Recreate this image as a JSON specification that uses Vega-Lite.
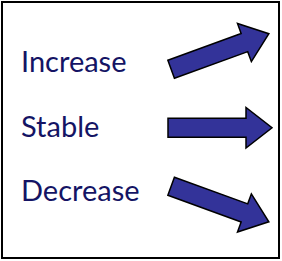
{
  "$schema": "https://vega.github.io/schema/vega-lite/v6.json",
  "autosize": {"type": "fit", "contains": "padding"},
  "width": 282,
  "height": 261,
  "padding": {"left": 2, "top": 2, "right": 3, "bottom": 3},
  "background": "white",
  "config": {"view": {"stroke": "black", "strokeWidth": 2}},
  "data": {"values": [
    {"trend": "Increase"},
    {"trend": "Stable"},
    {"trend": "Decrease"}
  ]},
  "layer": [
    {
      "mark": {"type": "text", "align": "left", "baseline": "alphabetic", "font": "Lato", "fontSize": 29, "color": "#141464"},
      "encoding": {
        "x": {"datum": 19, "type": "quantitative", "scale": {"domain": [0, 277], "nice": false, "zero": false}, "axis": null},
        "y": {"field": "trend", "type": "nominal", "sort": ["Increase", "Stable", "Decrease"], "scale": {"type": "point", "padding": 0, "range": [70, 199]}, "axis": null},
        "text": {"field": "trend"}
      }
    },
    {
      "mark": {"type": "point", "filled": true, "fill": "#333399", "stroke": "black", "strokeWidth": 1.5, "opacity": 1, "size": 10816,
        "shape": "M-1,-0.185L0.5,-0.185L0.5,-0.39L1,0L0.5,0.39L0.5,0.185L-1,0.185Z"},
      "encoding": {
        "x": {"datum": 218, "type": "quantitative", "scale": {"domain": [0, 277], "nice": false, "zero": false}, "axis": null},
        "y": {"field": "trend", "type": "nominal", "sort": ["Increase", "Stable", "Decrease"], "scale": {"type": "point", "padding": 0, "range": [49.5, 202]}, "axis": null},
        "angle": {"field": "trend", "type": "nominal", "scale": {"type": "ordinal", "domain": ["Increase", "Stable", "Decrease"], "range": [-20, 0, 20]}, "legend": null}
      }
    }
  ],
  "resolve": {"scale": {"y": "independent"}}
}
